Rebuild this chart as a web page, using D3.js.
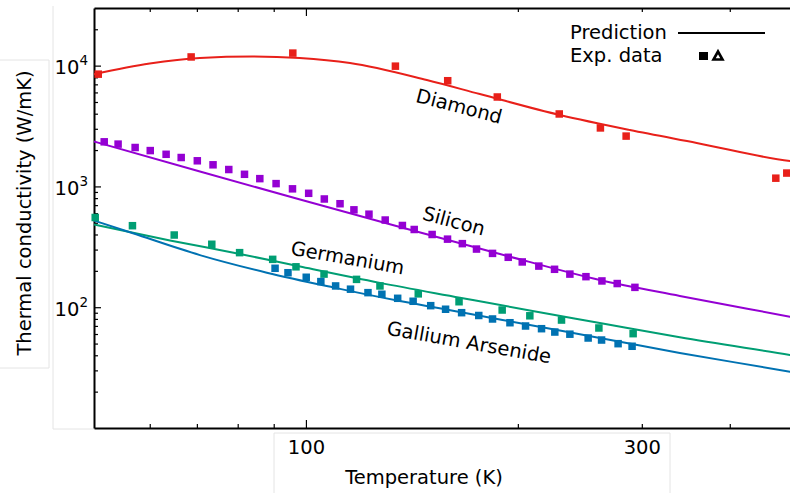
<!DOCTYPE html>
<html>
<head>
<meta charset="utf-8">
<script src="https://cdn.jsdelivr.net/npm/d3@7"></script>
<style>
  body { margin: 0; background: #fff; }
  svg { display: block; font-family: "DejaVu Sans", sans-serif; }
  .axis path, .axis line { stroke: #000; }
  .axis text { font-family: "DejaVu Sans", sans-serif; fill: #000; }
</style>
</head>
<body>
<div id="chart"></div>
<script>
// experimental points and predictions, temperature (K) vs thermal conductivity (W/mK)
const diamondExpT = [50.7, 68.7, 95.8, 134, 159, 187, 229, 262, 285, 465, 482];
const diamondExpK = [8500, 11800, 12700, 9900, 7500, 5500, 3980, 3050, 2610, 1170, 1290];
const diamondPredT = [50, 60, 70.7, 84, 98, 115.5, 148.5, 176.6, 229.5, 288.5, 359, 487, 500];
const diamondPredK = [8500, 10400, 11560, 11890, 11560, 10510, 7600, 5820, 3900, 2930, 2290, 1620, 1590];

const siliconExpT = [51.7, 54.1, 57.2, 60.1, 63.3, 66.5, 70.1, 73.8, 77.7, 81.8, 86.0, 90.7, 95.7, 100.9, 106.2, 111.8,
  117.0, 122.9, 129.6, 137.1, 142.5, 151.1, 158.9, 166.8, 174.7, 184.1, 193.8, 202.9, 214.2, 225.5, 237.1, 249.9, 263.3, 276.8, 293.3];
const siliconExpK = [2340, 2240, 2100, 1980, 1845, 1735, 1630, 1510, 1380, 1260, 1160, 1055, 955, 877, 787, 719,
  640, 589, 527, 475, 440, 400, 366, 336, 303, 279, 259, 237, 219, 206, 188, 179, 165, 157, 146];
const siliconPredT = [50, 70.7, 98.1, 136, 188.6, 261.5, 339.7, 487, 500];
const siliconPredK = [2354, 1328, 779, 461, 276, 168, 124, 83.4, 81];

const geExpT = [50.2, 56.7, 65.0, 73.5, 80.5, 89.7, 96.8, 106.1, 118.0, 127.4, 144.4, 165.0, 190.0, 208.0, 230.7, 260.7, 291.6];
const geExpK = [553, 473, 396, 332, 283, 249, 216, 188, 170, 150, 129, 111, 94.8, 84.9, 78.3, 67.3, 60.4];
const gePredT = [50, 64.1, 80.6, 98.1, 127.4, 165.5, 208, 261.5, 339.7, 487, 500];
const gePredK = [484, 357, 276, 217, 159, 120, 94, 74, 56.3, 40.2, 39.2];

const gaasExpT = [90.4, 94.3, 100.1, 105.0, 110.2, 115.7, 122.5, 128.2, 135.0, 142.0, 150.4, 157.9, 166.4, 176.0,
  184.1, 194.9, 205.1, 216.1, 225.7, 237.1, 251.7, 263.0, 277.6, 290.6];
const gaasExpK = [210, 193, 177, 163, 150, 141, 132, 128, 118.5, 112, 103, 96.2, 90.1, 85.4,
  79.9, 74.4, 69.9, 66.4, 62.3, 59.8, 55.6, 53.5, 49.9, 47.5];
const gaasPredT = [50, 56.8, 70.7, 88, 109.2, 136, 165.5, 208, 261.5, 339.7, 487, 500];
const gaasPredK = [522, 409, 270, 193, 146, 112.5, 91.3, 71.2, 55.6, 41.8, 29.2, 28.4];

const materials = ["Diamond", "Silicon", "Germanium", "Gallium Arsenide"];
const colors = ["#e8201a", "#9400d3", "#009e73", "#0072b2"];

// curve labels, anchored in data units
const labelT = [142.8, 145.9, 94.9, 129.9];
const labelK = [5025, 534, 273, 59.4];
const labelAngle = [14.5, 15, 10, 10];

const xMinorTicks = [60, 70, 80, 90, 200, 300, 400];
const xMajorTicks = [100];
const xLabelTicks = [100, 300];
const yMajorTicks = [100, 1000, 10000];
const yMinorTicks = [20, 30, 40, 50, 60, 70, 80, 90, 200, 300, 400, 500, 600, 700, 800, 900,
  2000, 3000, 4000, 5000, 6000, 7000, 8000, 9000, 20000];

const W = 790, H = 493;
const margin = { top: 8, left: 94 };
const width = 704, height = 420;
const fs = "19.5px";

const svg = d3.select("#chart").append("svg").attr("width", W).attr("height", H);

// faint boxes around the label areas
const boxes = [
  [49, 60, 49, 368], [0, 60, 49, 60], [0, 368, 49, 368],
  [53, 6, 53, 429], [53, 429, 94, 429],
  [274, 433, 274, 493], [670, 433, 670, 493], [274, 433, 670, 433]
];
svg.append("g").selectAll("line").data(boxes).enter().append("line")
  .attr("x1", d => d[0]).attr("y1", d => d[1]).attr("x2", d => d[2]).attr("y2", d => d[3])
  .attr("stroke", "#e4e4e4").attr("stroke-width", 1);

const g = svg.append("g").attr("transform", "translate(" + margin.left + "," + margin.top + ")");

const x = d3.scaleLog().domain([50, 500]).range([0, width]);
const y = d3.scaleLog().domain([10, 30000]).range([height, 0]);

// x axis, bottom
const xb = g.append("g").attr("class", "axis")
  .attr("transform", "translate(0," + height + ")")
  .call(d3.axisBottom(x).tickValues(xMinorTicks.concat(xMajorTicks)).tickSizeInner(-4).tickSizeOuter(0)
    .tickPadding(12).tickFormat(d => xLabelTicks.includes(d) ? d : ""));
xb.selectAll(".tick line").filter(d => xMajorTicks.includes(d)).attr("y2", -8);
xb.selectAll("text").style("font-size", fs);

// top
const xt = g.append("g").attr("class", "axis")
  .call(d3.axisTop(x).tickValues(xMinorTicks.concat(xMajorTicks)).tickSizeInner(-4).tickSizeOuter(0).tickFormat(""));
xt.selectAll(".tick line").filter(d => xMajorTicks.includes(d)).attr("y2", 8);

// y axis
const ya = g.append("g").attr("class", "axis")
  .call(d3.axisLeft(y).tickValues(yMinorTicks.concat(yMajorTicks)).tickSizeInner(-4).tickSizeOuter(0).tickFormat(""));
ya.selectAll(".tick line").filter(d => yMajorTicks.includes(d)).attr("x2", 7);

g.selectAll(".axis .domain").attr("stroke-width", 2);
g.selectAll(".axis .tick line").attr("stroke-width", 1.2);

// y tick labels with superscripts
yMajorTicks.forEach(function(v) {
  let t = g.append("text")
    .attr("x", -6).attr("y", y(v) + 8.5)
    .attr("text-anchor", "end")
    .style("font-size", fs);
  t.append("tspan").text("10");
  t.append("tspan").attr("dy", -9).style("font-size", "13.5px").text(Math.round(Math.log10(v)));
});

// axis titles
svg.append("text")
  .attr("x", 424).attr("y", 484)
  .attr("text-anchor", "middle")
  .style("font-size", fs)
  .text("Temperature (K)");

svg.append("text")
  .attr("transform", "translate(31,213) rotate(-90)")
  .attr("text-anchor", "middle")
  .style("font-size", "19.5px")
  .text("Thermal conductivity (W/mK)");

// prediction lines
const line = d3.line()
  .curve(d3.curveMonotoneX)
  .x(d => x(d[0]))
  .y(d => y(d[1]));

const preds = [
  d3.zip(diamondPredT, diamondPredK),
  d3.zip(siliconPredT, siliconPredK),
  d3.zip(gePredT, gePredK),
  d3.zip(gaasPredT, gaasPredK)
];
const exps = [
  d3.zip(diamondExpT, diamondExpK),
  d3.zip(siliconExpT, siliconExpK),
  d3.zip(geExpT, geExpK),
  d3.zip(gaasExpT, gaasExpK)
];

g.selectAll(".pred").data(preds).enter().append("path")
  .attr("class", "pred")
  .attr("fill", "none")
  .attr("stroke", (d, i) => colors[i])
  .attr("stroke-width", 2)
  .attr("d", line);

// experimental squares
const ms = 7.5;
exps.forEach(function(pts, i) {
  g.append("g").selectAll("rect").data(pts).enter().append("rect")
    .attr("x", d => x(d[0]) - ms / 2)
    .attr("y", d => y(d[1]) - ms / 2)
    .attr("width", ms).attr("height", ms)
    .attr("fill", colors[i]);
});

// curve labels
materials.forEach(function(name, i) {
  g.append("text")
    .attr("transform", "translate(" + x(labelT[i]) + "," + y(labelK[i]) + ") rotate(" + labelAngle[i] + ")")
    .style("font-size", fs)
    .text(name);
});

// legend
const lg = svg.append("g");
lg.append("text").attr("x", 570).attr("y", 38.5).style("font-size", fs).text("Prediction");
lg.append("text").attr("x", 570).attr("y", 61.5).style("font-size", fs).text("Exp. data");
lg.append("line").attr("x1", 678).attr("x2", 765).attr("y1", 33).attr("y2", 33)
  .attr("stroke", "#000").attr("stroke-width", 1.8);
lg.append("rect").attr("x", 699).attr("y", 52).attr("width", 9).attr("height", 8).attr("fill", "#000");
lg.append("path").attr("d", "M713.5,59.5 L722.5,59.5 L718,51.5 Z")
  .attr("fill", "#fff").attr("stroke", "#000").attr("stroke-width", 2.6).attr("stroke-linejoin", "miter");
</script>
</body>
</html>
